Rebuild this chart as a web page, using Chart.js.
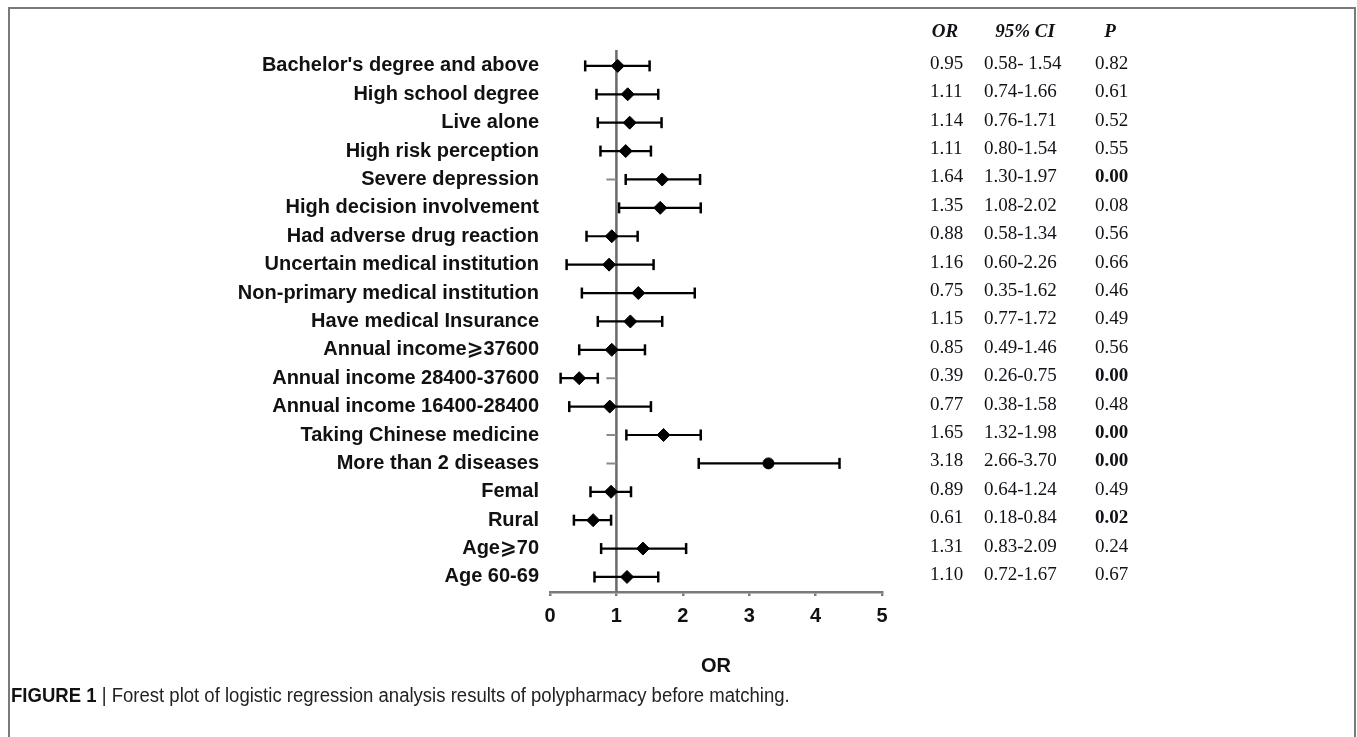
<!DOCTYPE html>
<html>
<head>
<meta charset="utf-8">
<script src="https://cdn.jsdelivr.net/npm/chart.js@4.4.1/dist/chart.umd.min.js"></script>
<style>
html,body{margin:0;padding:0;background:#fff;}
#wrap{position:relative;width:1357px;height:737px;overflow:hidden;}
#frame{position:absolute;left:8px;top:7px;width:1348px;height:760px;border:2px solid #7a7a7a;box-sizing:border-box;}
#chart{position:absolute;left:0;top:0;}
#caption{position:absolute;left:11px;top:684px;font-family:"Liberation Sans",Arial,sans-serif;font-size:20px;color:#222;white-space:nowrap;transform:scaleX(0.927);transform-origin:0 0;}
#caption b{color:#111;}
</style>
</head>
<body>
<div id="wrap">
  <div id="frame"></div>
  <canvas id="chart" width="1357" height="737"></canvas>
  <div id="caption"><b>FIGURE 1</b> | Forest plot of logistic regression analysis results of polypharmacy before matching.</div>
</div>
<script>
/* =========================
DATA (top row first)
========================= */

const rowLabels = [
  "Bachelor's degree and above",
  "High school degree",
  "Live alone",
  "High risk perception",
  "Severe depression",
  "High decision involvement",
  "Had adverse drug reaction",
  "Uncertain medical institution",
  "Non-primary medical institution",
  "Have medical Insurance",
  "Annual income\u2A7E37600",
  "Annual income 28400-37600",
  "Annual income 16400-28400",
  "Taking Chinese medicine",
  "More than 2 diseases",
  "Femal",
  "Rural",
  "Age\u2A7E70",
  "Age 60-69"
];

// values as plotted in the picture
const orPlot = [1.02,1.17,1.20,1.14,1.69,1.66,0.93,0.89,1.33,1.21,0.93,0.44,0.90,1.71,3.29,0.92,0.65,1.40,1.16];
const loPlot = [0.53,0.70,0.72,0.76,1.14,1.04,0.55,0.25,0.48,0.72,0.44,0.16,0.29,1.15,2.24,0.61,0.36,0.77,0.67];
const hiPlot = [1.50,1.63,1.68,1.52,2.26,2.27,1.32,1.56,2.18,1.69,1.43,0.72,1.52,2.27,4.36,1.22,0.92,2.05,1.63];

// short grey stubs left of the reference line
const stubRows = ["Severe depression","Annual income 28400-37600","Taking Chinese medicine","More than 2 diseases"];
const stubFrom = 0.85;
const refLine = 1;

// table at the right
const tableHead = ["OR","95% CI","P"];
const orText = ["0.95","1.11","1.14","1.11","1.64","1.35","0.88","1.16","0.75","1.15","0.85","0.39","0.77","1.65","3.18","0.89","0.61","1.31","1.10"];
const ciText = ["0.58- 1.54","0.74-1.66","0.76-1.71","0.80-1.54","1.30-1.97","1.08-2.02","0.58-1.34","0.60-2.26","0.35-1.62","0.77-1.72","0.49-1.46","0.26-0.75","0.38-1.58","1.32-1.98","2.66-3.70","0.64-1.24","0.18-0.84","0.83-2.09","0.72-1.67"];
const pText = ["0.82","0.61","0.52","0.55","0.00","0.08","0.56","0.66","0.46","0.49","0.56","0.00","0.48","0.00","0.00","0.49","0.02","0.24","0.67"];
const pBold = ["0.00","0.02"];

const xTicks = [0,1,2,3,4,5];

/* =========================
BUILD
========================= */

const n = rowLabels.length;
const rowY = i => n - i;

const whiskers = [];
const caps = [];
const stubs = [];
const points = [];

rowLabels.forEach((lab,i)=>{
  whiskers.push({x:loPlot[i],y:rowY(i)},{x:hiPlot[i],y:rowY(i)},{x:null,y:null});
  caps.push({x:loPlot[i],y:rowY(i)},{x:hiPlot[i],y:rowY(i)});
  points.push({x:orPlot[i],y:rowY(i)});
  if(stubRows.includes(lab)){
    stubs.push({x:stubFrom,y:rowY(i)},{x:refLine,y:rowY(i)},{x:null,y:null});
  }
});

const circleRow = "More than 2 diseases";

/* =========================
PLUGINS
========================= */

const refLinePlugin = {
  id:"refLine",
  beforeDatasetsDraw(chart){
    const {ctx,chartArea,scales} = chart;
    const x = scales.x.getPixelForValue(refLine);
    ctx.save();
    ctx.strokeStyle = "#6a6a6a";
    ctx.lineWidth = 2.5;
    ctx.beginPath();
    ctx.moveTo(x,chartArea.top);
    ctx.lineTo(x,chartArea.bottom);
    ctx.stroke();
    ctx.restore();
  }
};

const tablePlugin = {
  id:"table",
  afterDraw(chart){
    const {ctx,scales} = chart;
    const colX = [930,984,1095];
    const headX = [945,1025,1110];
    ctx.save();
    ctx.fillStyle = "#111118";
    ctx.textBaseline = "middle";
    ctx.textAlign = "center";
    ctx.font = "italic bold 19px 'Liberation Serif', 'Times New Roman', serif";
    tableHead.forEach((h,k)=>ctx.fillText(h,headX[k],32));
    ctx.textAlign = "left";
    rowLabels.forEach((lab,i)=>{
      const y = scales.y.getPixelForValue(rowY(i)) - 2;
      ctx.font = "19px 'Liberation Serif', 'Times New Roman', serif";
      ctx.fillText(orText[i],colX[0],y);
      ctx.fillText(ciText[i],colX[1],y);
      ctx.font = (pBold.includes(pText[i]) ? "bold " : "") + "19px 'Liberation Serif', 'Times New Roman', serif";
      ctx.fillText(pText[i],colX[2],y);
    });
    ctx.restore();
  }
};

/* =========================
CHART
========================= */

const labelFont = "'Liberation Sans', Arial, 'DejaVu Sans', sans-serif";

new Chart(document.getElementById("chart"),{
  type:"scatter",
  data:{
    datasets:[
      {
        label:"OR",
        data:points,
        pointStyle:ctx => rowLabels[ctx.dataIndex] === circleRow ? "circle" : "rectRot",
        pointRadius:ctx => rowLabels[ctx.dataIndex] === circleRow ? 5.5 : 6.5,
        backgroundColor:"#000",
        borderColor:"#000",
        borderWidth:1
      },
      {
        label:"caps",
        data:caps,
        pointStyle:"line",
        rotation:90,
        pointRadius:5.5,
        borderColor:"#000",
        borderWidth:2.5
      },
      {
        label:"CI",
        data:whiskers,
        showLine:true,
        pointRadius:0,
        borderColor:"#000",
        borderWidth:2.2
      },
      {
        label:"stub",
        data:stubs,
        showLine:true,
        pointRadius:0,
        borderColor:"#8a8a8a",
        borderWidth:2
      }
    ]
  },
  options:{
    responsive:false,
    animation:false,
    events:[],
    layout:{padding:{left:0,right:475,top:50,bottom:0}},
    plugins:{
      legend:{display:false},
      tooltip:{enabled:false}
    },
    scales:{
      x:{
        type:"linear",
        min:0,
        max:5,
        afterBuildTicks:s => { s.ticks = xTicks.map(v=>({value:v})); },
        afterFit:s => { s.height = 145; },
        border:{display:true,color:"#7a7a7a",width:2.5},
        grid:{drawOnChartArea:false,drawTicks:true,tickLength:4,color:"#7a7a7a",lineWidth:2.5},
        ticks:{
          color:"#111",
          padding:8,
          font:{family:labelFont,size:20,weight:"bold"}
        },
        title:{
          display:true,
          text:"OR",
          color:"#111",
          font:{family:labelFont,size:20,weight:"bold"},
          padding:{top:0,bottom:59}
        }
      },
      y:{
        type:"linear",
        min:0.47,
        max:19.56,
        afterBuildTicks:s => { s.ticks = rowLabels.map((l,i)=>({value:rowY(i)})); },
        afterFit:s => { s.width = 550; },
        border:{display:false},
        grid:{display:false,drawTicks:false},
        ticks:{
          autoSkip:false,
          color:"#111",
          padding:11,
          font:{family:labelFont,size:20,weight:"bold"},
          callback:v => rowLabels[n - v]
        }
      }
    }
  },
  plugins:[refLinePlugin,tablePlugin]
});
</script>
</body>
</html>
